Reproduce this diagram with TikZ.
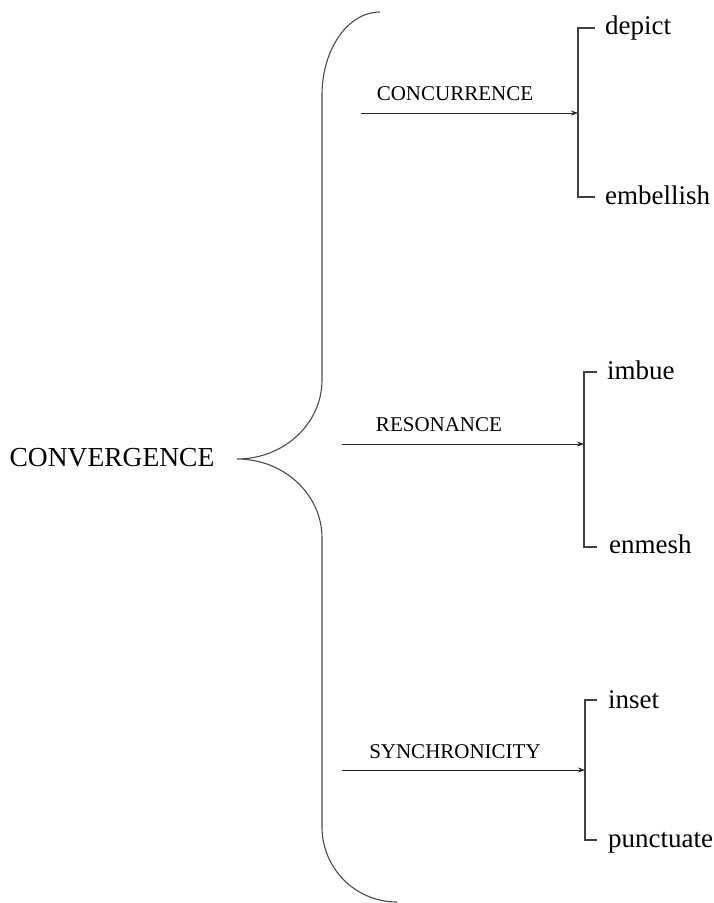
\documentclass[tikz,border=0pt]{standalone}
\usepackage{fontspec}
\setmainfont{Liberation Serif}
\usetikzlibrary{arrows.meta}
\begin{document}
\begin{tikzpicture}[x=1pt,y=1pt,
  brace/.style={draw=black!70, line width=1.1pt},
  bracket/.style={draw=black!75, line width=1.2pt},
  conn/.style={draw=black!85, line width=0.8pt, -{Stealth[length=7pt,width=5pt]}},
  biglabel/.style={font=\fontsize{27.5}{30}\selectfont, inner sep=0pt},
  catlabel/.style={font=\fontsize{21}{24}\selectfont, inner sep=0pt},
  wordlabel/.style={font=\fontsize{27}{30}\selectfont, inner sep=0pt, anchor=base west}]
\useasboundingbox (0,0) rectangle (714,-903);
\fill[white] (0,0) rectangle (714,-903);

% main label
\node[biglabel] (conv) at (112,-458) {CONVERGENCE};

% big brace
\draw[brace] (380,-12) arc[start angle=90, end angle=180, x radius=58, y radius=83]
  -- (322,-380) arc[start angle=0, end angle=-90, x radius=85, y radius=79]
  arc[start angle=90, end angle=0, x radius=85, y radius=79]
  -- (322,-827) arc[start angle=180, end angle=270, x radius=75, y radius=75];

% group 1
\coordinate (s1) at (361,-113);
\coordinate (b1) at (578,-113);
\coordinate (b1t) at (578,-28);
\coordinate (b1b) at (578,-197);
\coordinate (t1a) at (595,-28);
\coordinate (t1b) at (595,-197);
\node[catlabel] (cat1) at (455,-94) {CONCURRENCE};
\draw[bracket] (t1a) -- (b1t) -- (b1b) -- (t1b);
\draw[conn] (s1) -- (b1);
\node[wordlabel] (w1a) at (605,-34) {depict};
\node[wordlabel] (w1b) at (605,-204) {embellish};

% group 2
\coordinate (s2) at (342,-444);
\coordinate (b2) at (584,-444);
\coordinate (b2t) at (584,-372);
\coordinate (b2b) at (584,-547);
\coordinate (t2a) at (597,-372);
\coordinate (t2b) at (597,-547);
\node[catlabel] (cat2) at (439,-425) {RESONANCE};
\draw[bracket] (t2a) -- (b2t) -- (b2b) -- (t2b);
\draw[conn] (s2) -- (b2);
\node[wordlabel] (w2a) at (607,-379) {imbue};
\node[wordlabel] (w2b) at (609,-553) {enmesh};

% group 3
\coordinate (s3) at (342,-770);
\coordinate (b3) at (585,-770);
\coordinate (b3t) at (585,-700);
\coordinate (b3b) at (585,-840);
\coordinate (t3a) at (597,-700);
\coordinate (t3b) at (597,-840);
\node[catlabel] (cat3) at (455,-752) {SYNCHRONICITY};
\draw[bracket] (t3a) -- (b3t) -- (b3b) -- (t3b);
\draw[conn] (s3) -- (b3);
\node[wordlabel] (w3a) at (608,-708) {inset};
\node[wordlabel] (w3b) at (608,-847) {punctuate};
\end{tikzpicture}
\end{document}
